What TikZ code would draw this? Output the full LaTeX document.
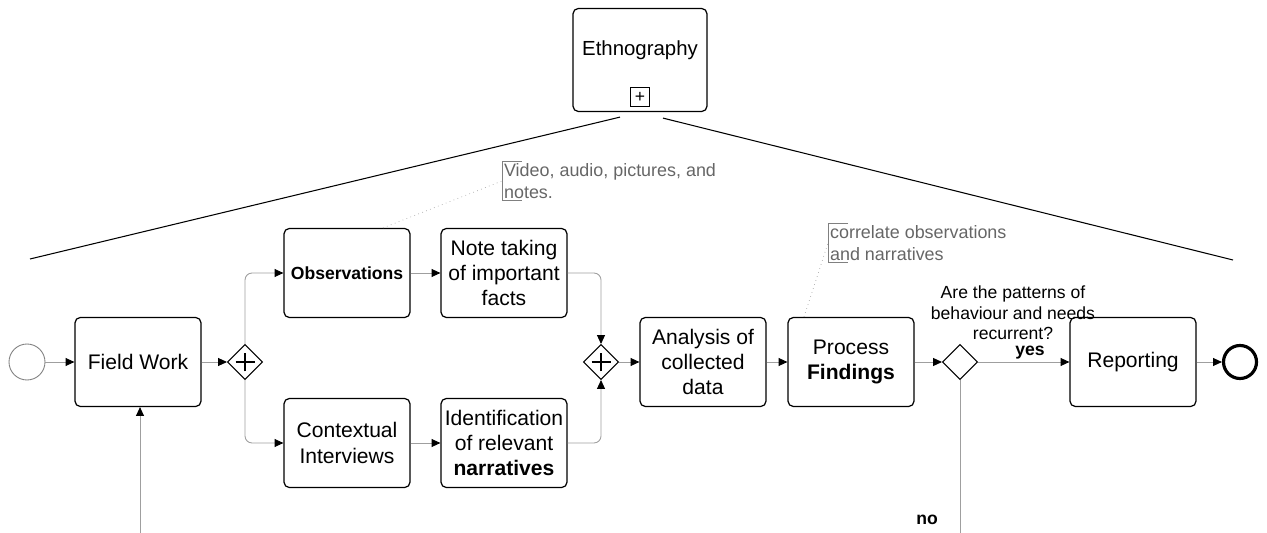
\documentclass[tikz,border=0pt]{standalone}
\usepackage{fontspec}
\setmainfont{Liberation Sans}
\usetikzlibrary{shapes.geometric,arrows.meta}

\tikzset{
    task/.style={draw, rounded corners=3pt, line width=0.7pt, minimum width=2.52cm,
        minimum height=1.78cm, align=center, inner sep=1pt,
        font=\fontsize{12}{14.4}\selectfont},
    gate/.style={draw, diamond, line width=0.6pt, minimum width=0.7cm, minimum height=0.7cm, inner sep=0pt},
    flow/.style={draw=gray!75, line width=0.5pt, rounded corners=4pt,
        -{Triangle[black, length=5pt, width=4.5pt]}},
    line/.style={draw=gray!75, line width=0.5pt},
    assoc/.style={draw=gray!70, line width=0.4pt, dotted},
    note/.style={anchor=west, text=black!60, align=left, inner sep=1pt,
        font=\fontsize{10.2}{12.5}\selectfont},
}

\begin{document}
\begin{tikzpicture}[x=0.02cm, y=-0.02cm]
    \useasboundingbox (0,0) rectangle (1267,533);
    % sub-process on top
        \node[task, minimum width=2.68cm, minimum height=2.06cm] (eth) at (640,60) {};
        \node[font=\fontsize{11.6}{14}\selectfont] (ethlbl) at (640,50) {Ethnography};
        \node[draw, line width=0.5pt, minimum size=0.38cm, inner sep=0pt, font=\normalsize] (ethplus) at (640,97) {+};
        \coordinate (zoomL) at (30,259);
        \coordinate (zoomR) at (1233,260);
        \draw[line width=0.6pt] ([xshift=-0.4cm, yshift=-0.1cm]eth.south) -- (zoomL);
        \draw[line width=0.6pt] ([xshift=0.46cm, yshift=-0.12cm]eth.south) -- (zoomR);
    % events and tasks
        \node[draw=gray, circle, line width=0.5pt, minimum size=0.72cm, inner sep=0pt] (start) at (27,362) {};
        \node[task] (fw) at (138,362) {Field Work};
        \node[gate] (split) at (245,362) {};
        \node[task, font=\bfseries\fontsize{10}{12}\selectfont] (obs) at (347,273) {Observations};
        \node[task] (facts) at (504,273) {Note taking\\of important\\facts};
        \node[task] (ctx) at (347,443) {Contextual\\Interviews};
        \node[task] (ident) at (504,443) {Identification\\of relevant\\\textbf{narratives}};
        \node[gate] (join) at (601,362) {};
        \node[task] (ana) at (703,362) {Analysis of\\collected\\data};
        \node[task] (find) at (851,362) {Process\\\textbf{Findings}};
        \node[gate] (xor) at (960,362) {};
        \node[task] (rep) at (1133,362) {Reporting};
        \node[draw, circle, line width=1.8pt, minimum size=0.66cm, inner sep=0pt] (stop) at (1240,362) {};
    % the plus signs of the parallel gateways
        \foreach \g in {split,join} {
            \draw[line width=1.3pt] ([xshift=-0.19cm]\g.center) -- ([xshift=0.19cm]\g.center);
            \draw[line width=1.3pt] ([yshift=-0.19cm]\g.center) -- ([yshift=0.19cm]\g.center);
        }
    % sequence flows
        \draw[flow] (start) -- (fw);
        \draw[flow] (fw) -- (split);
        \draw[flow] (split.north) |- (obs.west);
        \draw[flow] (split.south) |- (ctx.west);
        \draw[flow] (obs) -- (facts);
        \draw[flow] (ctx) -- (ident);
        \draw[flow] (facts.east) -| (join.north);
        \draw[flow] (ident.east) -| (join.south);
        \draw[flow] (join) -- (ana);
        \draw[flow] (ana) -- (find);
        \draw[flow] (find) -- (xor);
        \draw[flow] (xor) -- (rep);
        \draw[flow] (rep) -- (stop);
        \coordinate (noend) at (960,533);
        \coordinate (back) at (140,533);
        \draw[line] (xor.south) -- (noend);
        \draw[flow] (back) -- (back |- fw.south);
    % Below nodes are the labels.
        \node[font=\fontsize{10}{11.6}\selectfont, align=center, inner sep=0pt] (quest) at (1013,313) {Are the patterns of\\behaviour and needs\\recurrent?};
        \node[font=\bfseries\fontsize{10}{12}\selectfont, inner sep=0pt] (yes) at (1030,353) {yes};
        \node[font=\bfseries\fontsize{10}{12}\selectfont, inner sep=0pt] (no) at (927,520) {no};
    % text annotations
        \node[note] (note1) at (502,181) {Video, audio, pictures, and\\notes.};
        \node[note] (note2) at (828,243) {correlate observations\\and narratives};
        \foreach \n in {note1,note2}
            \draw[draw=gray, line width=0.4pt] ([xshift=0.4cm]\n.north west) -| (\n.south west) -- ([xshift=0.4cm]\n.south west);
        \draw[assoc] ([xshift=0.72cm]obs.north) -- (note1.west);
        \draw[assoc] ([xshift=-0.94cm]find.north) -- (note2.west);
\end{tikzpicture}
\end{document}
